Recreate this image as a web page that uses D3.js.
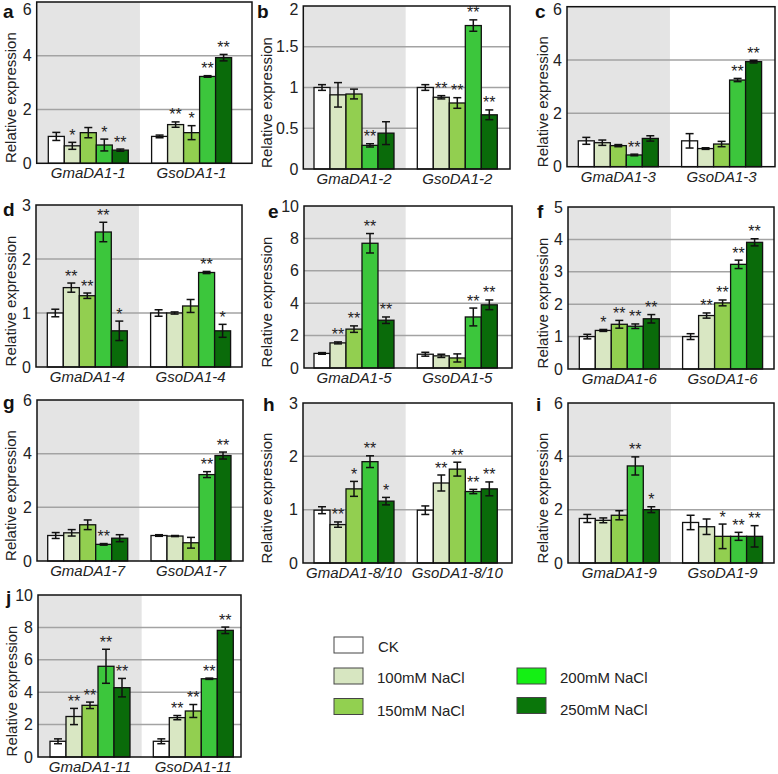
<!DOCTYPE html>
<html><head><meta charset="utf-8">
<script src="https://cdn.jsdelivr.net/npm/d3@7/dist/d3.min.js"></script>
<style>
html,body{margin:0;padding:0;background:#fff;}
svg{display:block;font-family:"Liberation Sans",Arial,sans-serif;}
</style></head>
<body>
<svg id="chart" width="778" height="774"></svg>
<script>
// ---------- data ----------
const treatments = ["CK","100mM NaCl","150mM NaCl","200mM NaCl","250mM NaCl"];
const panelLetters = ["a","b","c","d","e","f","g","h","i","j"];
const geneNames = [
  ["GmaDA1-1","GsoDA1-1"],["GmaDA1-2","GsoDA1-2"],["GmaDA1-3","GsoDA1-3"],
  ["GmaDA1-4","GsoDA1-4"],["GmaDA1-5","GsoDA1-5"],["GmaDA1-6","GsoDA1-6"],
  ["GmaDA1-7","GsoDA1-7"],["GmaDA1-8/10","GsoDA1-8/10"],["GmaDA1-9","GsoDA1-9"],
  ["GmaDA1-11","GsoDA1-11"]
];
const yTicks = [
  [0,2,4,6],[0,0.5,1,1.5,2],[0,2,4,6],[0,1,2,3],[0,2,4,6,8,10],
  [0,1,2,3,4,5],[0,2,4,6],[0,1,2,3],[0,2,4,6],[0,2,4,6,8,10]
];
const meanValues = [
  [[1.0,0.65,1.14,0.68,0.49],[1.0,1.44,1.14,3.23,3.93]],
  [[1.0,0.91,0.92,0.29,0.44],[1.0,0.88,0.81,1.76,0.665]],
  [[0.97,0.9,0.79,0.44,1.06],[0.97,0.68,0.85,3.25,3.94]],
  [[1.0,1.47,1.32,2.5,0.67],[1.0,1.0,1.13,1.75,0.67]],
  [[0.9,1.55,2.4,7.7,2.95],[0.85,0.75,0.62,3.15,3.9]],
  [[1.0,1.19,1.38,1.32,1.55],[1.0,1.65,2.04,3.23,3.91]],
  [[0.95,1.05,1.35,0.62,0.85],[0.95,0.93,0.68,3.22,3.93]],
  [[0.99,0.72,1.39,1.9,1.16],[0.99,1.5,1.76,1.34,1.39]],
  [[1.67,1.6,1.79,3.64,2.0],[1.52,1.36,1.0,1.0,1.0]],
  [[0.97,2.5,3.19,5.6,4.28],[0.97,2.43,2.84,4.83,7.82]]
];
const errorValues = [
  [[0.15,0.13,0.19,0.22,0.04],[0.05,0.1,0.26,0.03,0.12]],
  [[0.035,0.15,0.06,0.02,0.14],[0.035,0.02,0.065,0.07,0.06]],
  [[0.13,0.1,0.04,0.03,0.1],[0.27,0.03,0.1,0.06,0.05]],
  [[0.07,0.085,0.05,0.18,0.18],[0.06,0.02,0.12,0.02,0.12]],
  [[0.05,0.06,0.2,0.6,0.2],[0.12,0.1,0.25,0.55,0.3]],
  [[0.07,0.03,0.12,0.07,0.13],[0.09,0.08,0.09,0.13,0.11]],
  [[0.11,0.12,0.18,0.03,0.13],[0.03,0.02,0.2,0.11,0.13]],
  [[0.065,0.05,0.14,0.11,0.07],[0.08,0.15,0.13,0.04,0.13]],
  [[0.15,0.09,0.17,0.34,0.11],[0.27,0.29,0.46,0.15,0.4]],
  [[0.15,0.5,0.2,1.05,0.57],[0.15,0.13,0.4,0.04,0.2]]
];
const signif = [
  [["","*","","*","**"],["","**","*","**","**"]],
  [["","","","**",""],["","**","**","**","**"]],
  [["","","","**",""],["","","","**","**"]],
  [["","**","**","**","*"],["","","","**","*"]],
  [["","**","**","**","**"],["","","","**","**"]],
  [["","*","**","**","**"],["","**","**","**","**"]],
  [["","","","**",""],["","","","**","**"]],
  [["","**","*","**","*"],["","**","**","**","**"]],
  [["","","","**","*"],["","","*","**","**"]],
  [["","**","**","**","**"],["","**","**","**","**"]]
];

// ---------- styles / layout ----------
const barColors = ["#ffffff","#d9e7c3","#92cf50","#3cc63c","#0a6b0a"];
const legendColors = ["#ffffff","#d7e6c1","#92d050","#14f014","#0a760a"];
const frames = [ // [x0, x1, y0, y1]
  [36.7,252,2,163.3],[303.3,510,6,169],[567,775,6.7,166.7],
  [36,242,205,367],[304,512,206,368],[568,774,207,369],
  [37,243,400,561],[303,512,403,563],[568,774,403,563],
  [38,241,595,757]
];
const barStarts = [48.3,314,578.3,47.3,314,579.3,47.7,314,579.3,50];
const letterPos = [[3,17.5],[257,17.5],[535,17.5],[3,216],[268,218],[537,218],[3,409],[263,411],[536,411],[6,604]];
const titleX = [10,266,542,10,266,542,10,266,542,11.7];
const GROUP_W = 80, GROUP_STEP = 103.3;
const TXT = "#222";

const svg = d3.select("#chart");

panelLetters.forEach((letter, p) => {
  const [x0, x1, y0, y1] = frames[p];
  const g = svg.append("g");
  const ticks = yTicks[p];
  const yMax = ticks[ticks.length - 1];
  const y = d3.scaleLinear().domain([0, yMax]).range([y1, y0]);
  const xGroup = d3.scaleBand().domain(geneNames[p])
    .range([barStarts[p], barStarts[p] + GROUP_W + GROUP_STEP])
    .paddingInner((GROUP_STEP - GROUP_W) / GROUP_STEP).paddingOuter(0);
  const xBar = d3.scaleBand().domain(treatments).range([0, xGroup.bandwidth()]).padding(0);

  // gray background for the Gma half
  const midX = (xGroup(geneNames[p][0]) + xGroup.bandwidth() + xGroup(geneNames[p][1])) / 2;
  g.append("rect").attr("x", x0).attr("y", y0).attr("width", midX - x0).attr("height", y1 - y0)
    .attr("fill", "#e4e4e4");

  // gridlines
  g.selectAll("line.grid").data(ticks.filter(t => t > 0 && t < yMax)).enter()
    .append("line").attr("class","grid")
    .attr("x1", x0).attr("x2", x1).attr("y1", d => y(d)).attr("y2", d => y(d))
    .attr("stroke", "#a3a3a3").attr("stroke-width", 1.5);

  // bars
  geneNames[p].forEach((gene, gi) => {
    const gx = xGroup(gene);
    const items = treatments.map((t, ti) => ({
      t, ti, v: meanValues[p][gi][ti], e: errorValues[p][gi][ti], s: signif[p][gi][ti]
    }));
    const bg = g.append("g").attr("transform", `translate(${gx},0)`);
    bg.selectAll("rect").data(items).enter().append("rect")
      .attr("x", d => xBar(d.t)).attr("width", xBar.bandwidth())
      .attr("y", d => y(d.v)).attr("height", d => y(0) - y(d.v))
      .attr("fill", d => barColors[d.ti]).attr("stroke", "#111").attr("stroke-width", 1.3);
    const cx = d => xBar(d.t) + xBar.bandwidth() / 2;
    const eb = bg.selectAll("g.err").data(items).enter().append("g").attr("class","err")
      .attr("stroke", "#111").attr("stroke-width", 1.5);
    eb.append("line").attr("x1", cx).attr("x2", cx)
      .attr("y1", d => y(d.v + d.e)).attr("y2", d => y(Math.max(0, d.v - d.e)));
    eb.append("line").attr("x1", d => cx(d) - 4).attr("x2", d => cx(d) + 4)
      .attr("y1", d => y(d.v + d.e)).attr("y2", d => y(d.v + d.e));
    eb.append("line").attr("x1", d => cx(d) - 4).attr("x2", d => cx(d) + 4)
      .attr("y1", d => y(Math.max(0, d.v - d.e))).attr("y2", d => y(Math.max(0, d.v - d.e)));
    bg.selectAll("text.sig").data(items.filter(d => d.s)).enter().append("text")
      .attr("class","sig").attr("x", cx).attr("y", d => y(d.v + d.e) - 1.5)
      .attr("text-anchor","middle").attr("font-size", 16).attr("fill", TXT).text(d => d.s);
  });

  // frame
  g.append("rect").attr("x", x0).attr("y", y0).attr("width", x1 - x0).attr("height", y1 - y0)
    .attr("fill","none").attr("stroke","#111").attr("stroke-width",1.5);

  // y axis labels
  const axis = d3.axisLeft(y).tickValues(ticks).tickSize(0).tickPadding(5).tickFormat(d3.format("~g"));
  const ag = g.append("g").attr("transform", `translate(${x0},0)`).call(axis);
  ag.select(".domain").remove();
  ag.selectAll("text").attr("font-size", 16).attr("fill", TXT)
    .attr("font-family", '"Liberation Sans",Arial,sans-serif')
    .attr("y", d => (d === yMax ? Math.max(0, 9 - y(d)) : 0));

  // x labels
  g.selectAll("text.xl").data(geneNames[p]).enter().append("text").attr("class","xl")
    .attr("x", d => xGroup(d) + xGroup.bandwidth() / 2).attr("y", y1 + 15)
    .attr("text-anchor","middle").attr("font-style","italic").attr("font-size", 15)
    .attr("fill", TXT).text(d => d);

  // y title
  g.append("text").attr("transform", `translate(${titleX[p]},${(y0 + y1) / 2 + 15}) rotate(-90)`)
    .attr("text-anchor","middle").attr("dominant-baseline","central")
    .attr("font-size", 15).attr("fill", TXT).text("Relative expression");

  // panel letter
  g.append("text").attr("x", letterPos[p][0]).attr("y", letterPos[p][1])
    .attr("font-weight","bold").attr("font-size", 19).attr("fill", "#111").text(letter);
});

// ---------- legend ----------
const legendPos = [[334,637,378,646.5],[334,668,377,677.5],[334,698.5,377,710],[517,668,560,677.5],[517,697.5,560,709.5]];
const lg = svg.append("g");
treatments.forEach((t, i) => {
  const [bx, by, tx, ty] = legendPos[i];
  lg.append("rect").attr("x", bx).attr("y", by).attr("width", 29).attr("height", 16)
    .attr("fill", legendColors[i]).attr("stroke", "#444").attr("stroke-width", 1);
  lg.append("text").attr("x", tx).attr("y", ty).attr("dominant-baseline","central")
    .attr("font-size", 15).attr("fill", TXT).text(t);
});
</script>
</body></html>
